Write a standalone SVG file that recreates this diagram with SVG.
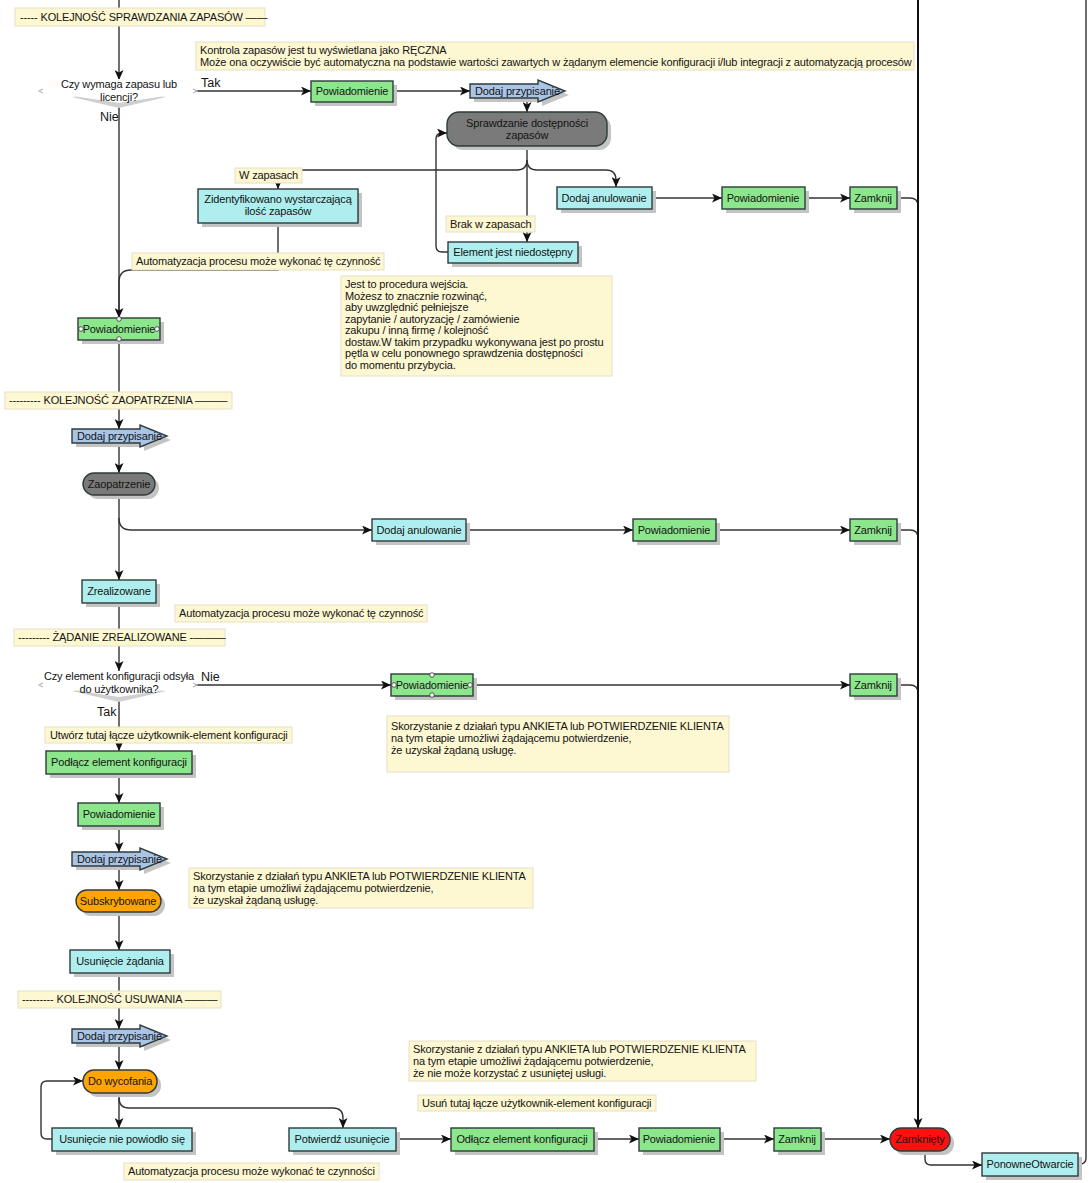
<svg xmlns="http://www.w3.org/2000/svg" width="1092" height="1183" viewBox="0 0 1092 1183">
<defs>
<marker id="ah" markerUnits="userSpaceOnUse" markerWidth="11" markerHeight="9" refX="10" refY="4.5" orient="auto">
<path d="M0,0 L10,4.5 L0,9 L2.5,4.5 Z" fill="#111"/>
</marker>
<style>
text{font-family:"Liberation Sans",Arial,sans-serif;font-size:11px;fill:#141414;letter-spacing:-0.15px}
.c{text-anchor:middle}
.big{font-size:12.5px;letter-spacing:0}
.box{stroke:#2e3b3b;stroke-width:1.4}
.cyan{fill:#afeeee}
.green{fill:#8ce68c}
.blue{fill:#aac4e6}
.gray{fill:#7a7a7a}
.orange{fill:#ffa500}
.red{fill:#ff1010}
.sh{fill:#c4c4c4}
.dsh{fill:#cfcfcf}
.tick{stroke:#bbb;stroke-width:1.2;fill:none}
.note{fill:#fdf7d2;stroke:#e6e0c6;stroke-width:1}
.conn{fill:none;stroke:#333;stroke-width:1.4}
.thick{fill:none;stroke:#111;stroke-width:2}
.dot{fill:#fff;stroke:#333;stroke-width:0.8}
</style>
</defs>
<rect width="1092" height="1183" fill="#fff"/>

<g id="connectors">
<path class="conn" d="M119,0 V80" marker-end="url(#ah)"/>
<path class="conn" d="M195,91 H311" marker-end="url(#ah)"/>
<path class="conn" d="M393,91 H470" marker-end="url(#ah)"/>
<path class="conn" d="M527,98 V112" marker-end="url(#ah)"/>
<path class="conn" d="M527,150 V242" marker-end="url(#ah)"/>
<path class="conn" d="M527,160 Q527,170 517,170 H278 V189" marker-end="url(#ah)"/>
<path class="conn" d="M527,160 Q527,170 537,170 H606 Q616,170 616,180 V187" marker-end="url(#ah)"/>
<path class="conn" d="M448,252 H442 Q436,252 436,246 V139 Q436,133 442,133 H447" marker-end="url(#ah)"/>
<path class="conn" d="M652,198 H722" marker-end="url(#ah)"/>
<path class="conn" d="M805,198 H850" marker-end="url(#ah)"/>
<path class="conn" d="M897,198 H910 Q918,198 918,206"/>
<path class="conn" d="M278,223 V270 H131 Q119,270 119,282 V318"/>
<path class="conn" d="M119,103 V318" marker-end="url(#ah)"/>
<path class="conn" d="M119,340 V429" marker-end="url(#ah)"/>
<path class="conn" d="M119,443 V473" marker-end="url(#ah)"/>
<path class="conn" d="M119,495 V580" marker-end="url(#ah)"/>
<path class="conn" d="M119,518 Q119,530 131,530 H372" marker-end="url(#ah)"/>
<path class="conn" d="M466,530 H633" marker-end="url(#ah)"/>
<path class="conn" d="M716,530 H850" marker-end="url(#ah)"/>
<path class="conn" d="M897,530 H910 Q918,530 918,538"/>
<path class="conn" d="M119,603 V671" marker-end="url(#ah)"/>
<path class="conn" d="M195,685 H391" marker-end="url(#ah)"/>
<path class="conn" d="M473,685 H850" marker-end="url(#ah)"/>
<path class="conn" d="M897,685 H910 Q918,685 918,693"/>
<path class="conn" d="M119,699 V751" marker-end="url(#ah)"/>
<path class="conn" d="M119,774 V803" marker-end="url(#ah)"/>
<path class="conn" d="M119,826 V852" marker-end="url(#ah)"/>
<path class="conn" d="M119,866 V890" marker-end="url(#ah)"/>
<path class="conn" d="M119,912 V950" marker-end="url(#ah)"/>
<path class="conn" d="M119,973 V1029" marker-end="url(#ah)"/>
<path class="conn" d="M119,1043 V1070" marker-end="url(#ah)"/>
<path class="conn" d="M119,1093 V1128" marker-end="url(#ah)"/>
<path class="conn" d="M119,1098 Q119,1108 129,1108 H333 Q343,1108 343,1118 V1128" marker-end="url(#ah)"/>
<path class="conn" d="M52,1139 H47 Q41,1139 41,1133 V1087 Q41,1081 47,1081 H83" marker-end="url(#ah)"/>
<path class="conn" d="M396,1139 H451" marker-end="url(#ah)"/>
<path class="conn" d="M594,1139 H639" marker-end="url(#ah)"/>
<path class="conn" d="M720,1139 H774" marker-end="url(#ah)"/>
<path class="conn" d="M821,1139 H890" marker-end="url(#ah)"/>
<path class="thick" d="M918,0 V1128" marker-end="url(#ah)"/>
<path class="conn" d="M925,1151 V1159 Q925,1165 931,1165 H982" marker-end="url(#ah)"/>
<path class="conn" d="M1078,1164 H1080 Q1086,1164 1086,1158 V0"/>
</g>

<g id="label-sprawdzania"><rect class="note" x="15" y="8" width="250" height="18"/><text x="20" y="21">----- KOLEJNOŚĆ SPRAWDZANIA ZAPASÓW ——</text></g>
<g id="note-kontrola"><rect class="note" x="196" y="42" width="718" height="28"/><text x="200" y="54">Kontrola zapasów jest tu wyświetlana jako RĘCZNA</text><text x="200" y="66">Może ona oczywiście być automatyczna na podstawie wartości zawartych w żądanym elemencie konfiguracji i/lub integracji z automatyzacją procesów</text></g>

<g id="decision-zapas">
<polygon class="dsh" points="72,97 119,89 166,97 119,108"/>
<polygon fill="#fff" points="40,91 119,79 198,91 119,103"/>
<path class="tick" d="M43,89 L39,91 L43,93 M193,89 L197,91 L193,93"/>
<text class="c" x="119" y="88">Czy wymaga zapasu lub</text>
<text class="c" x="119" y="101">licencji?</text>
<text class="big" x="201" y="87">Tak</text>
<text class="big" x="100" y="121">Nie</text>
</g>

<g id="powiadomienie-1"><rect class="sh" x="315" y="85" width="82" height="21"/><rect class="box green" x="311" y="81" width="82" height="21"/><text class="c" x="352" y="95">Powiadomienie</text></g>
<g id="dodaj-przypisanie-1"><path class="sh" transform="translate(4,4)" d="M470,84 H538 V80 L565,91 L538,102 V98 H470 Z"/><path class="box blue" d="M470,84 H538 V80 L565,91 L538,102 V98 H470 Z"/><text x="475" y="95">Dodaj przypisanie</text></g>
<g id="sprawdzanie"><rect class="sh" x="451" y="116" width="160" height="34" rx="12"/><rect class="box gray" x="447" y="112" width="160" height="34" rx="12"/><text class="c" x="527" y="127">Sprawdzanie dostępności</text><text class="c" x="527" y="139">zapasów</text></g>
<g id="label-w-zapasach"><rect class="note" x="235" y="168" width="67" height="15"/><text x="239" y="179">W zapasach</text></g>
<g id="zidentyfikowano"><rect class="sh" x="202" y="193" width="160" height="34"/><rect class="box cyan" x="198" y="189" width="160" height="34"/><text class="c" x="278" y="203">Zidentyfikowano wystarczającą</text><text class="c" x="278" y="215">ilość zapasów</text></g>
<g id="label-automatyzacja-1"><rect class="note" x="132" y="253" width="252" height="17"/><text x="136" y="265">Automatyzacja procesu może wykonać tę czynność</text></g>
<g id="label-brak"><rect class="note" x="446" y="216" width="89" height="16"/><text x="450" y="228">Brak w zapasach</text></g>
<g id="element-niedostepny"><rect class="sh" x="452" y="246" width="130" height="21"/><rect class="box cyan" x="448" y="242" width="130" height="21"/><text class="c" x="513" y="256">Element jest niedostępny</text></g>
<g id="dodaj-anulowanie-1"><rect class="sh" x="561" y="191" width="95" height="22"/><rect class="box cyan" x="557" y="187" width="95" height="22"/><text class="c" x="604" y="202">Dodaj anulowanie</text></g>
<g id="powiadomienie-2"><rect class="sh" x="726" y="191" width="83" height="22"/><rect class="box green" x="722" y="187" width="83" height="22"/><text class="c" x="763" y="202">Powiadomienie</text></g>
<g id="zamknij-1"><rect class="sh" x="854" y="191" width="47" height="22"/><rect class="box green" x="850" y="187" width="47" height="22"/><text class="c" x="873" y="202">Zamknij</text></g>
<g id="note-procedura"><rect class="note" x="341" y="276" width="271" height="100"/>
<text x="345" y="288">Jest to procedura wejścia.</text>
<text x="345" y="299.5">Możesz to znacznie rozwinąć,</text>
<text x="345" y="311">aby uwzględnić pełniejsze</text>
<text x="345" y="322.5">zapytanie / autoryzację / zamówienie</text>
<text x="345" y="334">zakupu / inną firmę / kolejność</text>
<text x="345" y="345.5">dostaw.W takim przypadku wykonywana jest po prostu</text>
<text x="345" y="357">pętla w celu ponownego sprawdzenia dostępności</text>
<text x="345" y="368.5">do momentu przybycia.</text>
</g>
<g id="powiadomienie-3"><rect class="sh" x="82" y="322" width="82" height="22"/><rect class="box green" x="78" y="318" width="82" height="22"/><text class="c" x="119" y="333">Powiadomienie</text><circle class="dot" cx="119" cy="319" r="2.3"/><circle class="dot" cx="119" cy="339" r="2.3"/><circle class="dot" cx="81" cy="329" r="2.3"/><circle class="dot" cx="157" cy="329" r="2.3"/></g>
<g id="label-zaopatrzenia"><rect class="note" x="5" y="392" width="227" height="17"/><text x="9" y="404">--------- KOLEJNOŚĆ ZAOPATRZENIA ———</text></g>
<g id="dodaj-przypisanie-2"><path class="sh" transform="translate(4,4)" d="M72,429 H140 V425 L167,436 L140,447 V443 H72 Z"/><path class="box blue" d="M72,429 H140 V425 L167,436 L140,447 V443 H72 Z"/><text x="77" y="440">Dodaj przypisanie</text></g>
<g id="zaopatrzenie"><rect class="sh" x="87" y="477" width="72" height="22" rx="11"/><rect class="box gray" x="83" y="473" width="72" height="22" rx="11"/><text class="c" x="119" y="488">Zaopatrzenie</text></g>
<g id="dodaj-anulowanie-2"><rect class="sh" x="376" y="523" width="94" height="22"/><rect class="box cyan" x="372" y="519" width="94" height="22"/><text class="c" x="419" y="534">Dodaj anulowanie</text></g>
<g id="powiadomienie-4"><rect class="sh" x="637" y="523" width="83" height="22"/><rect class="box green" x="633" y="519" width="83" height="22"/><text class="c" x="674" y="534">Powiadomienie</text></g>
<g id="zamknij-2"><rect class="sh" x="854" y="523" width="47" height="22"/><rect class="box green" x="850" y="519" width="47" height="22"/><text class="c" x="873" y="534">Zamknij</text></g>
<g id="zrealizowane"><rect class="sh" x="86" y="584" width="74" height="23"/><rect class="box cyan" x="82" y="580" width="74" height="23"/><text class="c" x="119" y="595">Zrealizowane</text></g>
<g id="label-automatyzacja-2"><rect class="note" x="175" y="605" width="252" height="17"/><text x="179" y="617">Automatyzacja procesu może wykonać tę czynność</text></g>
<g id="label-zadanie"><rect class="note" x="14" y="629" width="211" height="17"/><text x="18" y="641">--------- ŻĄDANIE ZREALIZOWANE -———</text></g>

<g id="decision-uzytkownik">
<polygon class="dsh" points="72,691 119,683 166,691 119,702"/>
<polygon fill="#fff" points="40,685 119,671 198,685 119,697"/>
<path class="tick" d="M43,683 L39,685 L43,687 M193,683 L197,685 L193,687"/>
<text class="c" x="119" y="680">Czy element konfiguracji odsyła</text>
<text class="c" x="119" y="693">do użytkownika?</text>
<text class="big" x="201" y="681">Nie</text>
<text class="big" x="97" y="716">Tak</text>
</g>
<g id="powiadomienie-5"><rect class="sh" x="395" y="678" width="82" height="22"/><rect class="box green" x="391" y="674" width="82" height="22"/><text class="c" x="432" y="689">Powiadomienie</text><circle class="dot" cx="432" cy="675" r="2.3"/><circle class="dot" cx="432" cy="695" r="2.3"/><circle class="dot" cx="394" cy="685" r="2.3"/><circle class="dot" cx="470" cy="685" r="2.3"/></g>
<g id="zamknij-3"><rect class="sh" x="854" y="678" width="47" height="22"/><rect class="box green" x="850" y="674" width="47" height="22"/><text class="c" x="873" y="689">Zamknij</text></g>
<g id="note-ankieta-1"><rect class="note" x="387" y="716" width="342" height="56"/><text x="391" y="730">Skorzystanie z działań typu ANKIETA lub POTWIERDZENIE KLIENTA</text><text x="391" y="742">na tym etapie umożliwi żądającemu potwierdzenie,</text><text x="391" y="754"> że uzyskał żądaną usługę.</text></g>
<g id="label-utworz"><rect class="note" x="45" y="727" width="247" height="16"/><text x="50" y="739">Utwórz tutaj łącze użytkownik-element konfiguracji</text></g>
<g id="podlacz"><rect class="sh" x="50" y="755" width="146" height="23"/><rect class="box green" x="46" y="751" width="146" height="23"/><text class="c" x="119" y="766">Podłącz element konfiguracji</text></g>
<g id="powiadomienie-6"><rect class="sh" x="82" y="807" width="82" height="23"/><rect class="box green" x="78" y="803" width="82" height="23"/><text class="c" x="119" y="818">Powiadomienie</text></g>
<g id="dodaj-przypisanie-3"><path class="sh" transform="translate(4,4)" d="M72,852 H140 V848 L167,859 L140,870 V866 H72 Z"/><path class="box blue" d="M72,852 H140 V848 L167,859 L140,870 V866 H72 Z"/><text x="77" y="863">Dodaj przypisanie</text></g>
<g id="note-ankieta-2"><rect class="note" x="189" y="868" width="344" height="40"/><text x="193" y="880">Skorzystanie z działań typu ANKIETA lub POTWIERDZENIE KLIENTA</text><text x="193" y="892">na tym etapie umożliwi żądającemu potwierdzenie,</text><text x="193" y="904"> że uzyskał żądaną usługę.</text></g>
<g id="subskrybowane"><rect class="sh" x="80" y="894" width="85" height="22" rx="11"/><rect class="box orange" x="76" y="890" width="85" height="22" rx="11"/><text class="c" x="118" y="905">Subskrybowane</text></g>
<g id="usuniecie-zadania"><rect class="sh" x="74" y="954" width="100" height="23"/><rect class="box cyan" x="70" y="950" width="100" height="23"/><text class="c" x="120" y="965">Usunięcie żądania</text></g>
<g id="label-usuwania"><rect class="note" x="18" y="991" width="203" height="17"/><text x="22" y="1003">--------- KOLEJNOŚĆ USUWANIA ———</text></g>
<g id="dodaj-przypisanie-4"><path class="sh" transform="translate(4,4)" d="M72,1029 H140 V1025 L167,1036 L140,1047 V1043 H72 Z"/><path class="box blue" d="M72,1029 H140 V1025 L167,1036 L140,1047 V1043 H72 Z"/><text x="77" y="1040">Dodaj przypisanie</text></g>
<g id="do-wycofania"><rect class="sh" x="87" y="1074" width="74" height="23" rx="11"/><rect class="box orange" x="83" y="1070" width="74" height="23" rx="11"/><text class="c" x="120" y="1085">Do wycofania</text></g>
<g id="note-ankieta-3"><rect class="note" x="409" y="1041" width="347" height="40"/><text x="413" y="1053">Skorzystanie z działań typu ANKIETA lub POTWIERDZENIE KLIENTA</text><text x="413" y="1065">na tym etapie umożliwi żądającemu potwierdzenie,</text><text x="413" y="1077"> że nie może korzystać z usuniętej usługi.</text></g>
<g id="label-usun"><rect class="note" x="418" y="1095" width="238" height="16"/><text x="422" y="1107">Usuń tutaj łącze użytkownik-element konfiguracji</text></g>
<g id="usuniecie-nie-powiodlo"><rect class="sh" x="56" y="1132" width="140" height="23"/><rect class="box cyan" x="52" y="1128" width="140" height="23"/><text class="c" x="122" y="1143">Usunięcie nie powiodło się</text></g>
<g id="potwierdz-usuniecie"><rect class="sh" x="293" y="1132" width="107" height="23"/><rect class="box cyan" x="289" y="1128" width="107" height="23"/><text class="c" x="342" y="1143">Potwierdź usunięcie</text></g>
<g id="odlacz"><rect class="sh" x="455" y="1132" width="143" height="23"/><rect class="box green" x="451" y="1128" width="143" height="23"/><text class="c" x="522" y="1143">Odłącz element konfiguracji</text></g>
<g id="powiadomienie-7"><rect class="sh" x="643" y="1132" width="81" height="23"/><rect class="box green" x="639" y="1128" width="81" height="23"/><text class="c" x="679" y="1143">Powiadomienie</text></g>
<g id="zamknij-4"><rect class="sh" x="778" y="1132" width="47" height="23"/><rect class="box green" x="774" y="1128" width="47" height="23"/><text class="c" x="797" y="1143">Zamknij</text></g>
<g id="zamkniety"><rect class="sh" x="894" y="1132" width="60" height="23" rx="11"/><rect class="box red" x="890" y="1128" width="60" height="23" rx="11"/><text class="c" x="920" y="1143">Zamknięty</text></g>
<g id="ponowne-otwarcie"><rect class="sh" x="986" y="1157" width="96" height="23"/><rect class="box cyan" x="982" y="1153" width="96" height="23"/><text class="c" x="1030" y="1168">PonowneOtwarcie</text></g>
<g id="label-automatyzacja-3"><rect class="note" x="124" y="1163" width="255" height="17"/><text x="128" y="1175">Automatyzacja procesu może wykonać te czynności</text></g>
</svg>
